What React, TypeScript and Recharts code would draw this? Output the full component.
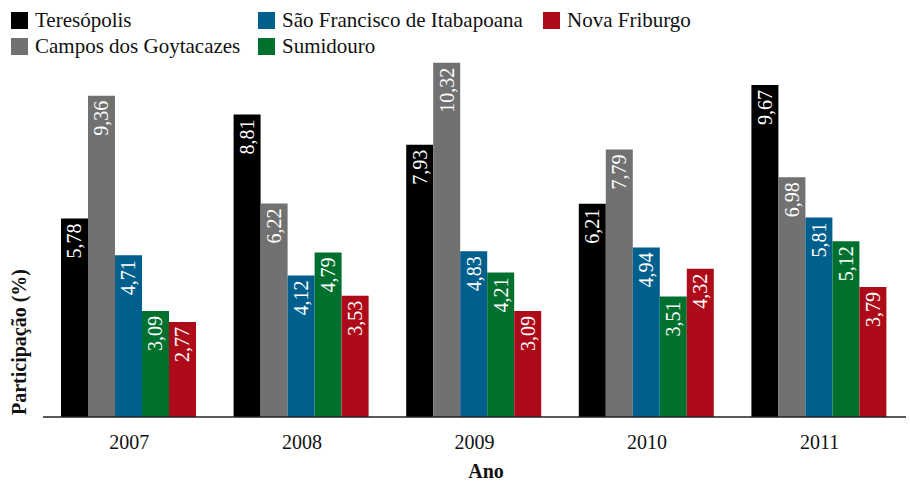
import React from "react";
import { BarChart, Bar, XAxis, YAxis, LabelList } from "recharts";

const YEARS = ["2007", "2008", "2009", "2010", "2011"];
const TERESOPOLIS = [5.78, 8.81, 7.93, 6.21, 9.67];
const CAMPOS = [9.36, 6.22, 10.32, 7.79, 6.98];
const SAO_FRANCISCO = [4.71, 4.12, 4.83, 4.94, 5.81];
const SUMIDOURO = [3.09, 4.79, 4.21, 3.51, 5.12];
const NOVA_FRIBURGO = [2.77, 3.53, 3.09, 4.32, 3.79];

const SERIES = [
  { key: "ter", name: "Teresópolis", color: "#000000", values: TERESOPOLIS },
  { key: "cam", name: "Campos dos Goytacazes", color: "#717171", values: CAMPOS },
  { key: "sfi", name: "São Francisco de Itabapoana", color: "#005f8c", values: SAO_FRANCISCO },
  { key: "sum", name: "Sumidouro", color: "#00702e", values: SUMIDOURO },
  { key: "nfr", name: "Nova Friburgo", color: "#ae0b1a", values: NOVA_FRIBURGO },
];

// legend order as in the figure (two rows)
const LEGEND = [
  { idx: 0, x: 11, y: 12 },
  { idx: 2, x: 258, y: 12 },
  { idx: 4, x: 543, y: 12 },
  { idx: 1, x: 11, y: 38 },
  { idx: 3, x: 258, y: 38 },
];

const FONT = "Liberation Serif";

const data = YEARS.map((year, i) => {
  const row: Record<string, unknown> = { year };
  SERIES.forEach((s) => {
    row[s.key] = s.values[i];
  });
  return row;
});

function BarValue(props: any) {
  const { x, y, width, value } = props;
  const cx = Number(x) + Number(width) / 2;
  const ty = Number(y) + 5;
  return (
    <text
      x={cx}
      y={ty}
      fill="#ffffff"
      style={{ fontFamily: FONT, fontSize: 20 }}
      textAnchor="end"
      dominantBaseline="central"
      transform={`rotate(-90, ${cx}, ${ty})`}
    >
      {Number(value).toFixed(2).replace(".", ",")}
    </text>
  );
}

export default function App() {
  return (
    <div style={{ position: "absolute", left: 0, top: 0, width: 910, height: 481, background: "#fff", fontFamily: FONT }}>
      <BarChart
        width={910}
        height={481}
        data={data}
        margin={{ top: 5, right: 4, left: 43, bottom: 0 }}
        barCategoryGap={18}
        barGap={0}
        style={{ fontFamily: FONT }}
      >
        <XAxis
          dataKey="year"
          height={64}
          tickLine={false}
          tickSize={0}
          tickMargin={18}
          axisLine={{ stroke: "#222", strokeWidth: 1.5 }}
          tick={{ fontSize: 20, fill: "#111", style: { fontFamily: FONT } }}
        />
        <YAxis hide domain={[0, 12]} />
        {SERIES.map((s) => (
          <Bar key={s.key} dataKey={s.key} name={s.name} fill={s.color} isAnimationActive={false}>
            <LabelList dataKey={s.key} content={BarValue} />
          </Bar>
        ))}
      </BarChart>

      <svg width={910} height={481} style={{ position: "absolute", left: 0, top: 0, pointerEvents: "none", fontFamily: FONT }}>
        {LEGEND.map((l) => {
          const s = SERIES[l.idx];
          return (
            <g key={s.key}>
              <rect x={l.x} y={l.y} width={17} height={17} fill={s.color} />
              <text x={l.x + 24} y={l.y + 15} style={{ fontFamily: FONT, fontSize: 21 }} fill="#111">
                {s.name}
              </text>
            </g>
          );
        })}
        <text
          x={26}
          y={342}
          style={{ fontFamily: FONT, fontSize: 20, fontWeight: "bold" }}
          fill="#111"
          textAnchor="middle"
          transform="rotate(-90, 26, 342)"
        >
          Participação (%)
        </text>
        <text x={486} y={478} style={{ fontFamily: FONT, fontSize: 20, fontWeight: "bold" }} fill="#111" textAnchor="middle">
          Ano
        </text>
      </svg>
    </div>
  );
}
